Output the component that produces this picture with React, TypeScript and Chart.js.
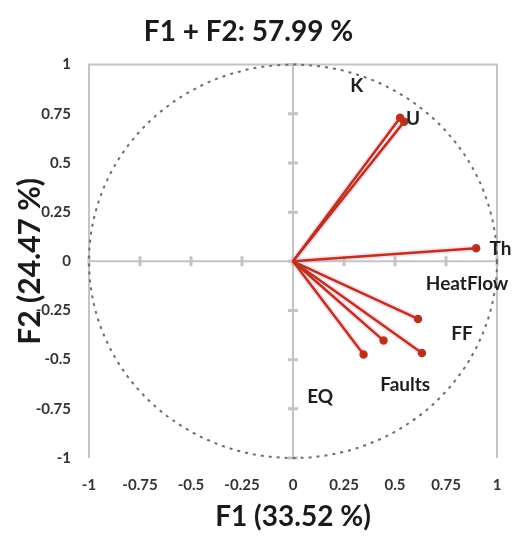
import React, { useEffect, useRef } from "react";
import { Chart, registerables } from "chart.js";

Chart.register(...registerables);

const variables = ["K", "U", "Th", "HeatFlow", "FF", "Faults", "EQ"];
const f1Values = [0.525, 0.545, 0.898, 0.613, 0.632, 0.444, 0.346];
const f2Values = [0.73, 0.71, 0.066, -0.293, -0.466, -0.403, -0.474];
const labelF1 = [0.313, 0.588, 1.017, 0.853, 0.829, 0.55, 0.133];
const labelF2 = [0.894, 0.724, 0.061, -0.117, -0.369, -0.628, -0.687];
const tickValues = [-1, -0.75, -0.5, -0.25, 0, 0.25, 0.5, 0.75, 1];

const titleText = "F1 + F2: 57.99 %";
const xTitle = "F1 (33.52 %)";
const yTitle = "F2 (24.47 %)";

const FONT = "Lato, 'Open Sans', sans-serif";

const framePlugin = {
  id: "frame",
  beforeDatasetsDraw(chart: any) {
    const { ctx, chartArea, scales } = chart;
    const xs = scales.x;
    const ys = scales.y;
    const { left, right, top, bottom } = chartArea;
    ctx.save();
    ctx.strokeStyle = "#c4c4c4";
    ctx.lineWidth = 2;
    ctx.beginPath();
    ctx.moveTo(left, bottom);
    ctx.lineTo(left, top);
    ctx.lineTo(right, top);
    ctx.lineTo(right, bottom);
    ctx.stroke();
    const x0 = xs.getPixelForValue(0);
    const y0 = ys.getPixelForValue(0);
    ctx.beginPath();
    ctx.moveTo(left, y0);
    ctx.lineTo(right, y0);
    ctx.moveTo(x0, top);
    ctx.lineTo(x0, bottom);
    ctx.stroke();
    ctx.lineWidth = 3;
    ctx.beginPath();
    tickValues.forEach((v) => {
      const px = xs.getPixelForValue(v);
      ctx.moveTo(px, y0 - 5);
      ctx.lineTo(px, y0 + 5);
      const py = ys.getPixelForValue(v);
      ctx.moveTo(x0 - 5, py);
      ctx.lineTo(x0 + 5, py);
    });
    ctx.stroke();
    const rx = xs.getPixelForValue(1) - x0;
    const ry = y0 - ys.getPixelForValue(1);
    ctx.strokeStyle = "#6e6e6e";
    ctx.lineWidth = 2;
    ctx.setLineDash([3, 5]);
    ctx.beginPath();
    ctx.ellipse(x0, y0, rx, ry, 0, 0, Math.PI * 2);
    ctx.stroke();
    ctx.setLineDash([]);
    // soft pink halo under the vectors
    ctx.strokeStyle = "rgba(255,120,170,0.25)";
    ctx.lineWidth = 6;
    ctx.lineCap = "round";
    ctx.beginPath();
    variables.forEach((_, i) => {
      ctx.moveTo(x0, y0);
      ctx.lineTo(xs.getPixelForValue(f1Values[i]), ys.getPixelForValue(f2Values[i]));
    });
    ctx.stroke();
    ctx.restore();
  },
  afterDatasetsDraw(chart: any) {
    const { ctx, scales } = chart;
    ctx.save();
    ctx.fillStyle = "#1e1e1e";
    ctx.font = `bold 19px ${FONT}`;
    ctx.textAlign = "center";
    ctx.textBaseline = "middle";
    variables.forEach((name, i) => {
      const px = scales.x.getPixelForValue(labelF1[i]);
      const py = scales.y.getPixelForValue(labelF2[i]);
      ctx.fillText(name, px, py);
    });
    ctx.restore();
  },
};

export default function App() {
  const canvasRef = useRef<HTMLCanvasElement | null>(null);

  useEffect(() => {
    if (!canvasRef.current) return;
    const datasets = variables.map((name, i) => ({
      label: name,
      data: [
        { x: 0, y: 0 },
        { x: f1Values[i], y: f2Values[i] },
      ],
      borderColor: "#b8341f",
      borderWidth: 2.5,
      pointRadius: [0, 3],
      pointBackgroundColor: "#9e3a1c",
      pointBorderColor: "#c0301f",
      showLine: true,
      fill: false,
    }));

    const chart = new Chart(canvasRef.current, {
      type: "scatter",
      data: { datasets },
      options: {
        animation: false,
        responsive: false,
        maintainAspectRatio: false,
        layout: { padding: { left: 0, right: 30, top: 0, bottom: 0 } },
        plugins: {
          legend: { display: false },
          tooltip: { enabled: false },
          title: {
            display: true,
            text: titleText,
            color: "#1a1a1a",
            font: { family: FONT, size: 28, weight: "bold", lineHeight: 1.2 },
            padding: { top: 15, bottom: 16 },
          },
        },
        scales: {
          x: {
            type: "linear",
            min: -1,
            max: 1,
            afterBuildTicks: (s: any) => {
              s.ticks = tickValues.map((v) => ({ value: v }));
            },
            afterFit: (s: any) => {
              s.height = 92;
            },
            grid: { display: false, drawTicks: false },
            border: { display: false },
            ticks: {
              padding: 18,
              color: "#333",
              font: { family: FONT, size: 15, weight: "bold" },
              callback: (v: any) => String(v),
            },
            title: {
              display: true,
              text: xTitle,
              color: "#1a1a1a",
              font: { family: FONT, size: 28, weight: "bold", lineHeight: 1.2 },
              padding: { top: 4, bottom: 16 },
            },
          },
          y: {
            type: "linear",
            min: -1,
            max: 1,
            afterBuildTicks: (s: any) => {
              s.ticks = tickValues.map((v) => ({ value: v }));
            },
            afterFit: (s: any) => {
              s.width = 89;
            },
            grid: { display: false, drawTicks: false },
            border: { display: false },
            ticks: {
              padding: 18,
              color: "#333",
              font: { family: FONT, size: 15, weight: "bold" },
              callback: (v: any) => String(v),
            },
            title: {
              display: true,
              text: yTitle,
              color: "#1a1a1a",
              font: { family: FONT, size: 30, weight: "bold", lineHeight: 1.2 },
              padding: { top: 12, bottom: 0 },
            },
          },
        },
      },
      plugins: [framePlugin],
    });
    return () => chart.destroy();
  }, []);

  return (
    <div style={{ position: "fixed", left: 0, top: 0, width: 527, height: 550, background: "#fff" }}>
      <canvas ref={canvasRef} width={527} height={550} />
    </div>
  );
}
